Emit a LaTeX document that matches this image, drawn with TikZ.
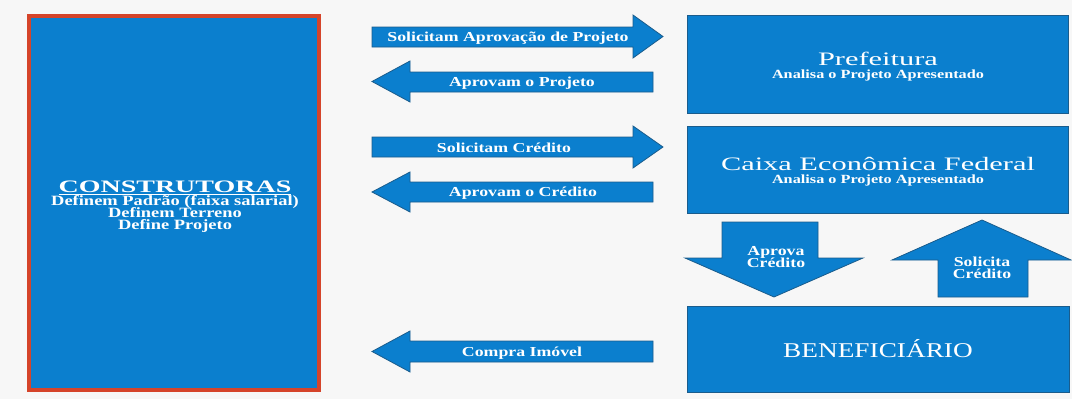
\documentclass[tikz,border=0pt]{standalone}
\usepackage{fontspec}
\setmainfont{Liberation Serif}
\newfontfamily\lblfont[FakeStretch=1.3]{Liberation Serif}
\newfontfamily\ttlfont[FakeStretch=1.6]{Liberation Serif}
\newcommand\tightlines{\lineskiplimit=-20pt\relax}
\definecolor{bluefill}{HTML}{0B7FCE}
\definecolor{blueedge}{HTML}{1A5C8C}
\definecolor{rededge}{HTML}{D5442A}
\definecolor{paper}{HTML}{F7F7F7}
\begin{document}
\begin{tikzpicture}[x=1pt,y=-1pt,
  panel/.style={rectangle,fill=bluefill,draw=blueedge,line width=1pt,inner sep=0pt,outer sep=0pt,anchor=north west},
  blockarrow/.style={fill=bluefill,draw=blueedge,line width=0.8pt,line join=miter},
  txt/.style={text=white,inner sep=0pt,anchor=base},
  lbl/.style={txt,font=\lblfont\bfseries\fontsize{13.7}{12.5}\selectfont\tightlines},
  sub/.style={txt,font=\lblfont\bfseries\fontsize{12.5}{14}\selectfont},
  ttl/.style={txt,font=\ttlfont\fontsize{19}{21}\selectfont}]
\fill[paper] (0,0) rectangle (1072,399);
\useasboundingbox (0,0) rectangle (1072,399);

% builders column (multi-line nodes sit on the baseline of their last line)
\node[panel,draw=rededge,line width=3.5pt,minimum width=290pt,minimum height=374pt] (constr) at (29,16) {};
\node[txt,font=\ttlfont\bfseries\fontsize{17.5}{19}\selectfont] (constrT) at (175,192.5) {\underline{CONSTRUTORAS}};
\node[txt,align=center,font=\lblfont\bfseries\fontsize{14.2}{11.6}\selectfont\tightlines] (constrL) at (175,229)
  {Definem Padrão (faixa salarial)\\Definem Terreno\\Define Projeto};

% right-hand boxes
\node[panel,minimum width=381pt,minimum height=98pt] (pref) at (687,15) {};
\node[ttl] (prefT) at (878,65) {Prefeitura};
\node[sub] (prefS) at (878,78) {Analisa o Projeto Apresentado};

\node[panel,minimum width=381pt,minimum height=87pt] (caixa) at (687,126) {};
\node[ttl] (caixaT) at (878,170) {Caixa Econômica Federal};
\node[sub] (caixaS) at (878,183.5) {Analisa o Projeto Apresentado};

\node[panel,minimum width=382pt,minimum height=86pt] (benef) at (687,306) {};
\node[txt,font=\lblfont\fontsize{21}{23}\selectfont] (benefT) at (878,357) {BENEFICIÁRIO};

% horizontal block arrows
\draw[blockarrow] (372,27) -- (633,27) -- (633,15) -- (663,36.5) -- (633,58) -- (633,47) -- (372,47) -- cycle;
\node[lbl] (a1) at (508,41) {Solicitam Aprovação de Projeto};

\draw[blockarrow] (653,72) -- (410,72) -- (410,61) -- (372,81.5) -- (410,102) -- (410,92) -- (653,92) -- cycle;
\node[lbl] (a2) at (522,86.5) {Aprovam o Projeto};

\draw[blockarrow] (372,137) -- (633,137) -- (633,126) -- (663,147) -- (633,168) -- (633,157) -- (372,157) -- cycle;
\node[lbl] (a3) at (504,152) {Solicitam Crédito};

\draw[blockarrow] (653,182) -- (410,182) -- (410,172) -- (372,192) -- (410,212) -- (410,202) -- (653,202) -- cycle;
\node[lbl] (a4) at (523,196.5) {Aprovam o Crédito};

\draw[blockarrow] (653,341) -- (410,341) -- (410,331) -- (372,351.5) -- (410,372) -- (410,362) -- (653,362) -- cycle;
\node[lbl] (a5) at (522,356) {Compra Imóvel};

% vertical block arrows between bank and beneficiary
\draw[blockarrow] (722,222) -- (818,222) -- (818,258) -- (863,258) -- (774,297) -- (685,258) -- (722,258) -- cycle;
\node[lbl,align=center] (dA) at (776,267.5) {Aprova\\Crédito};

\draw[blockarrow] (938,297) -- (1028,297) -- (1028,260) -- (1071,260) -- (982,220) -- (892,260) -- (938,260) -- cycle;
\node[lbl,align=center] (uA) at (982,278.5) {Solicita\\Crédito};
\end{tikzpicture}
\end{document}
